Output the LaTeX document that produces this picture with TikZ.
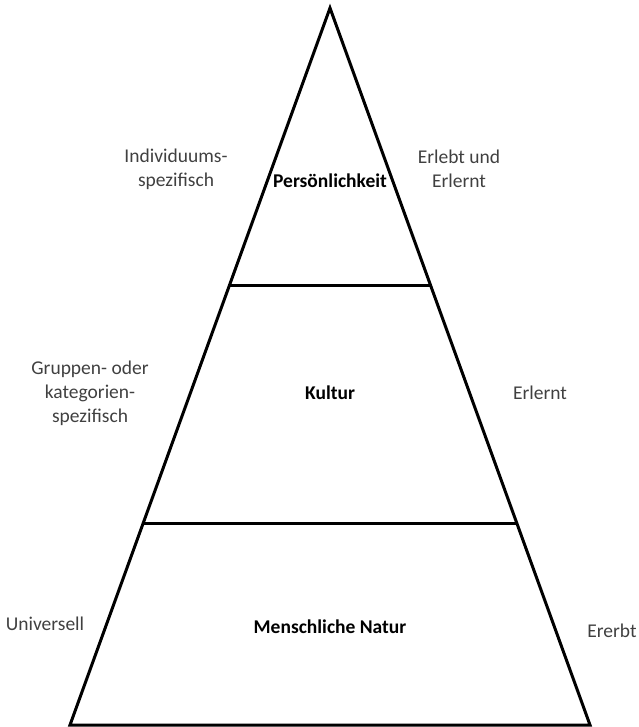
\documentclass[tikz,border=0pt]{standalone}
\usepackage{fontspec}
\setmainfont{Carlito}
\usetikzlibrary{calc}
\begin{document}
\begin{tikzpicture}[x=1pt,y=-1pt,
  edge/.style={line width=3pt,line join=miter},
  lbl/.style={font=\fontsize{19.5}{24}\selectfont,align=center,text=black!75,inner sep=0pt},
  tier/.style={font=\fontsize{19.5}{24}\selectfont\bfseries,inner sep=0pt}]
\useasboundingbox (0,0) rectangle (638,727);
% pyramid outline
\coordinate (apex) at (330,8);
\coordinate (bl) at (70,725);
\coordinate (br) at (590,725);
\draw[edge] (bl) -- (apex) -- (br) -- cycle;
% tier separators
\coordinate (l1) at ($(apex)!0.3877!(bl)$);
\coordinate (r1) at ($(apex)!0.3877!(br)$);
\coordinate (l2) at ($(apex)!0.7183!(bl)$);
\coordinate (r2) at ($(apex)!0.7183!(br)$);
\draw[edge] (l1) -- (r1);
\draw[edge] (l2) -- (r2);
% tier names
\node[tier] (pers) at (330,181) {Persönlichkeit};
\node[tier] (kult) at (330,393) {Kultur};
\node[tier] (natur) at (330,627) {Menschliche Natur};
% left side
\node[lbl] (ind) at (176,169) {Individuums-\\spezifisch};
\node[lbl] (grp) at (90,393) {Gruppen- oder\\kategorien-\\spezifisch};
\node[lbl] (uni) at (45,624) {Universell};
% right side
\node[lbl] (erl) at (459,169) {Erlebt und\\Erlernt};
\node[lbl] (ern) at (540,393) {Erlernt};
\node[lbl] (erb) at (612,631) {Ererbt};
\end{tikzpicture}
\end{document}
